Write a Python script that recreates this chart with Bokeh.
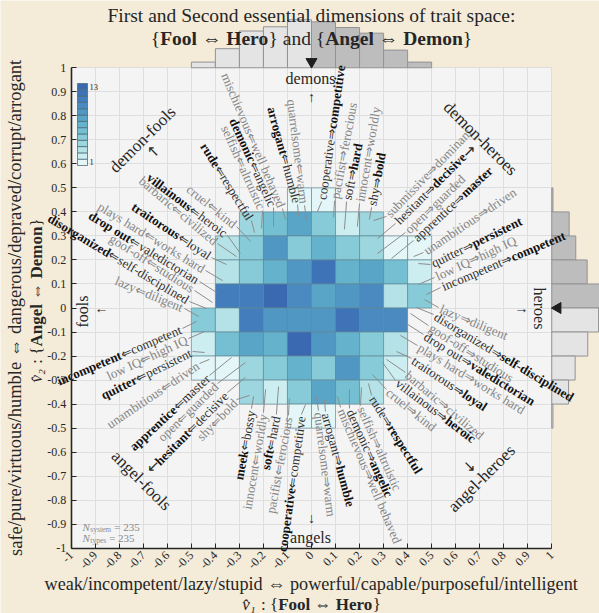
import math
import numpy as np
from bokeh.plotting import figure
from bokeh.models import Range1d, FixedTicker, ColumnDataSource, CustomJSTickFormatter
from bokeh.core.properties import value
from bokeh.embed import file_html
from bokeh.resources import INLINE

# ------------------------------------------------------------------ data
# heat-map: counts of trait vectors per 0.1 x 0.1 cell
cell_x0 = [-0.5, -0.4, -0.3, -0.2, -0.1, 0.0, 0.1, 0.2, 0.3, 0.4]     # left edge of each column
cell_y0 = [0.4, 0.3, 0.2, 0.1, 0.0, -0.1, -0.2, -0.3, -0.4, -0.5]     # bottom edge of each row (top row first)
counts_row0 = [0, 0, 0, 0, 1, 1, 0, 0, 0, 0]
counts_row1 = [0, 0, 4, 6, 8, 5, 2, 4, 0, 0]
counts_row2 = [0, 3, 5, 9, 5, 7, 5, 4, 1, 1]
counts_row3 = [0, 3, 5, 7, 9, 12, 7, 8, 6, 2]
counts_row4 = [0, 11, 11, 13, 10, 8, 9, 10, 3, 5]
counts_row5 = [5, 3, 11, 9, 9, 9, 12, 10, 10, 0]
counts_row6 = [2, 6, 8, 7, 13, 9, 7, 5, 3, 0]
counts_row7 = [1, 1, 4, 5, 7, 5, 9, 5, 2, 0]
counts_row8 = [0, 0, 4, 2, 5, 8, 6, 3, 0, 0]
counts_row9 = [0, 0, 0, 0, 1, 1, 0, 0, 0, 0]
cell_size = 0.1

palette = ["#e4f6f7", "#cdeef1", "#b4e2e7", "#9dd6de", "#86cbd7", "#74bfd2", "#64b2cc",
           "#59a5c8", "#5097c4", "#4a8ac0", "#447dbb", "#3f73b7", "#3a69b2"]   # counts 1..13

ticks = [-1, -0.9, -0.8, -0.7, -0.6, -0.5, -0.4, -0.3, -0.2, -0.1, 0,
         0.1, 0.2, 0.3, 0.4, 0.5, 0.6, 0.7, 0.8, 0.9, 1]

# trait pairs (upper half of the chart); the lower half holds the mirrored pairs
trait_a = ["mischievous", "demonic", "selfish", "rude", "cruel", "villainous", "barbaric",
           "traitorous", "plays hard", "drop out", "goof-off", "disorganized", "lazy",
           "arrogant", "quarrelsome",
           "cooperative", "pacifist", "soft", "innocent", "shy", "submissive", "hesitant",
           "open", "apprentice", "unambitious", "quitter", "low IQ", "incompetent"]
trait_b = ["well behaved", "angelic", "altruistic", "respectful", "kind", "heroic", "civilized",
           "loyal", "works hard", "valedictorian", "studious", "self-disciplined", "diligent",
           "humble", "warm",
           "competitive", "ferocious", "hard", "worldly", "bold", "dominant", "decisive",
           "guarded", "master", "driven", "persistent", "high IQ", "competent"]
trait_strong = [0, 1, 0, 1, 0, 1, 0, 1, 0, 1, 0, 1, 0, 1, 0,
                1, 0, 1, 0, 1, 0, 1, 0, 1, 0, 1, 0, 1]
lower_swap = {"shy": ("meek", "bossy"), "submissive": ("shy", "bold")}
trait_v1 = [-0.108, -0.158, -0.208, -0.237, -0.254, -0.296, -0.312, -0.354, -0.37, -0.395,
            -0.412, -0.437, -0.47, -0.054, -0.021,
            0.025, 0.092, 0.137, 0.191, 0.241, 0.258, 0.275, 0.275, 0.333, 0.425, 0.445, 0.445, 0.479]
trait_v2 = [0.368, 0.339, 0.331, 0.314, 0.277, 0.227, 0.214, 0.181, 0.114, 0.065,
            0.023, -0.002, -0.035, 0.381, 0.368,
            0.402, 0.377, 0.327, 0.339, 0.368, 0.364, 0.289, 0.227, 0.206, 0.214, 0.185, 0.098, 0.056]
# label layout: direction (deg) and inner end of each label
label_dir = [113, 114.5, 114, 122, 141, 143, 140, 146.5, 148.5, 148.5, 147.5, 149, 157.5, 105, 97,
             82, 79.5, 78.7, 80.3, 79.7, 46, 45, 44, 43, 34, 26, 25, 23]
label_x = [-0.121, -0.158, -0.204, -0.25, -0.312, -0.35, -0.391, -0.416, -0.441, -0.466,
           -0.487, -0.508, -0.529, -0.058, -0.029,
           0.042, 0.096, 0.146, 0.2, 0.25, 0.312, 0.35, 0.391, 0.425, 0.466, 0.495, 0.512, 0.537]
label_y = [0.414, 0.418, 0.406, 0.364, 0.339, 0.302, 0.268, 0.21, 0.156, 0.11,
           0.073, 0.027, -0.002, 0.431, 0.427,
           0.443, 0.447, 0.443, 0.435, 0.419, 0.381, 0.352, 0.314, 0.281, 0.231, 0.181, 0.127, 0.085]

n_system = 235
n_types = 235

# ------------------------------------------------------------------ geometry helpers
FONT = "Liberation Serif"
S = 240.25            # pixels per data unit
CX, CY = 311.0, 307.5  # page position of the origin
W, H = 599, 613


def pg(px, py):
    return ((px - CX) / S, (CY - py) / S)


TR = {' ': 250, '-': 333, '/': 278, ':': 278, '=': 564, '.': 250, '{': 480, '}': 480,
      'F': 556, 'S': 556, 'I': 333, 'Q': 722, 'N': 722, 'H': 722, 'A': 722, 'D': 722,
      'a': 444, 'b': 500, 'c': 444, 'd': 500, 'e': 444, 'f': 333, 'g': 500, 'h': 500, 'i': 278,
      'j': 278, 'k': 500, 'l': 278, 'm': 778, 'n': 500, 'o': 500, 'p': 500, 'q': 500, 'r': 333,
      's': 389, 't': 278, 'u': 500, 'v': 500, 'w': 722, 'x': 500, 'y': 500, 'z': 444,
      '\u0302': 0, '\u2081': 420, '\u2082': 420}
TB = {' ': 250, '-': 333, 'A': 722, 'D': 722, 'F': 611, 'H': 778, 'I': 389, 'Q': 778,
      'a': 500, 'b': 556, 'c': 444, 'd': 556, 'e': 444, 'f': 333, 'g': 500, 'h': 556, 'i': 278,
      'j': 333, 'k': 556, 'l': 278, 'm': 833, 'n': 556, 'o': 500, 'p': 556, 'q': 556, 'r': 444,
      's': 389, 't': 333, 'u': 556, 'v': 500, 'w': 722, 'x': 500, 'y': 500, 'z': 444}
TI = {'N': 667, 'v': 444}
ARROW_W = {"\u21d0": 838, "\u21d2": 838, "\u21d4": 1000}


def em(s, st="normal"):
    tab = TB if st == "bold" else TR
    tot = 0
    for ch in s:
        if ch in ARROW_W:
            tot += ARROW_W[ch]
        elif st == "italic" and ch in TI:
            tot += TI[ch]
        else:
            tot += tab.get(ch, 500)
    return tot / 1000.0


groups = {}


def add_text(x, y, t, angle=0.0, align="left", baseline="middle", size=12.0,
             style="normal", color="#262626"):
    key = (align, baseline, round(size, 1), style, color)
    g = groups.setdefault(key, dict(x=[], y=[], text=[], angle=[]))
    g["x"].append(x)
    g["y"].append(y)
    g["text"].append(t)
    g["angle"].append(angle)


def draw_runs(runs, cpx, cpy, size, angle=0.0, color="#262626"):
    ems = [em(t, st) for t, st in runs]
    total = sum(ems) * size
    ux, uy = math.cos(angle), math.sin(angle)
    cx, cy = pg(cpx, cpy)
    pos = -total / 2
    for (t, st), e in zip(runs, ems):
        lead = len(t) - len(t.lstrip(" "))
        q = pos + lead * 0.25 * size
        add_text(cx + q / S * ux, cy + q / S * uy, t.strip(" "), angle=angle, align="left",
                 size=size, style=st, color=color)
        pos += e * size


# ------------------------------------------------------------------ figure
BEIGE = "#f4ebd8"
x0, y1 = pg(0, 0)
x1, y0 = pg(W, H)
p = figure(width=W, height=H, x_range=Range1d(x0, x1), y_range=Range1d(y0, y1),
           output_backend="svg", toolbar_location=None, min_border=0,
           background_fill_color=BEIGE, border_fill_color=BEIGE, outline_line_color=None)

# plot-area background
p.quad(left=[ticks[0]], right=[ticks[-1]], bottom=[ticks[0]], top=[ticks[-1]],
       fill_color="#f4f4f4", line_color=None, level="image")

# grid
grid_ok = True
for g in (p.xgrid[0], p.ygrid[0]):
    g.ticker = FixedTicker(ticks=ticks)
    g.grid_line_color = "#dedede"
    g.grid_line_width = 1
    g.bounds = (ticks[0], ticks[-1])
    try:
        g.cross_bounds = (ticks[0], ticks[-1])
    except AttributeError:
        grid_ok = False
if not grid_ok:
    p.xgrid.visible = False
    p.ygrid.visible = False
    p.segment(x0=ticks, y0=[ticks[0]] * len(ticks), x1=ticks, y1=[ticks[-1]] * len(ticks),
              line_color="#dedede", line_width=1, level="underlay")
    p.segment(x0=[ticks[0]] * len(ticks), y0=ticks, x1=[ticks[-1]] * len(ticks), y1=ticks,
              line_color="#dedede", line_width=1, level="underlay")

# axes
fmt = CustomJSTickFormatter(code="return String(Math.round(tick*10)/10)")
p.xaxis.fixed_location = ticks[0]
p.yaxis.fixed_location = ticks[0]
for ax in (p.xaxis[0], p.yaxis[0]):
    ax.bounds = (ticks[0], ticks[-1])
    ax.ticker = FixedTicker(ticks=ticks)
    ax.formatter = fmt
    ax.major_tick_in = 5
    ax.major_tick_out = 0
    ax.minor_tick_line_color = None
    ax.axis_line_color = "#262626"
    ax.axis_line_width = 1.6
    ax.major_tick_line_color = "#262626"
    ax.major_label_text_font = FONT
    ax.major_label_text_font_size = "12px"
    ax.major_label_text_color = "#262626"
    ax.major_label_standoff = 5
p.xaxis.major_label_orientation = math.pi / 4

# heat map
counts = np.array([counts_row0, counts_row1, counts_row2, counts_row3, counts_row4,
                   counts_row5, counts_row6, counts_row7, counts_row8, counts_row9])
hl, hr, hb, ht, hc = [], [], [], [], []
for r, yb in enumerate(cell_y0):
    for c, xl in enumerate(cell_x0):
        n = counts[r, c]
        if n > 0:
            hl.append(xl); hr.append(xl + cell_size)
            hb.append(yb); ht.append(yb + cell_size)
            hc.append(palette[n - 1])
p.quad(left=hl, right=hr, bottom=hb, top=ht, fill_color=hc, line_color="#5f8793",
       line_alpha=0.65, line_width=1)

# marginal histograms
col_sum = counts.sum(axis=0)
row_sum = counts.sum(axis=1)
HL = 48.0 / S
top_len = HL * col_sum / col_sum.max()
right_len = HL * row_sum / row_sum.max()
xc = np.array(cell_x0) + cell_size / 2
yc = np.array(cell_y0) + cell_size / 2
p.quad(left=cell_x0, right=[v + cell_size for v in cell_x0], bottom=[1.0] * 10,
       top=list(1.0 + top_len), fill_color=["#e4e4e4" if v < 0 else "#bdbdbd" for v in xc],
       line_color="#939393", line_width=1)
p.quad(bottom=cell_y0, top=[v + cell_size for v in cell_y0], left=[1.0] * 10,
       right=list(1.0 + right_len), fill_color=["#e4e4e4" if v < 0 else "#bdbdbd" for v in yc],
       line_color="#939393", line_width=1)
mean_v1 = float((counts.sum(axis=0) * xc).sum() / counts.sum())
mean_v2 = float((counts.sum(axis=1) * yc).sum() / counts.sum())
p.scatter(x=[round(mean_v1, 1)], y=[1.0 + 6 / S], marker="inverted_triangle", size=11,
          color="#1e1e1e")
p.scatter(x=[1.0 + 6 / S], y=[round(mean_v2, 1)], marker="triangle", angle=math.pi / 2,
          size=11, color="#1e1e1e")

# colour bar
cb_x0, cb_x1 = pg(77, 0)[0], pg(87, 0)[0]
cb_bot, cb_top = pg(0, 165)[1], pg(0, 83)[1]
step = (cb_top - cb_bot) / len(palette)
p.quad(left=[cb_x0] * len(palette), right=[cb_x1] * len(palette),
       bottom=[cb_bot + i * step for i in range(len(palette))],
       top=[cb_bot + (i + 1) * step for i in range(len(palette))],
       fill_color=palette, line_color="#4d6f7a", line_width=0.8)
add_text(cb_x1 + 2 / S, cb_top - step / 2, "13", size=8.5)
add_text(cb_x1 + 2 / S, cb_bot + step / 2, "1", size=8.5)

# trait labels with leader lines
LBL = 13.0
GAP = 2.0
seg = dict(x0=[], y0=[], x1=[], y1=[])
for half in (0, 1):
    sgn = 1 if half == 0 else -1
    for k in range(len(trait_a)):
        a, b = trait_a[k], trait_b[k]
        if half == 1 and a in lower_swap:
            a, b = lower_swap[a]
        th = math.radians(label_dir[k] + (0 if half == 0 else 180))
        ux, uy = math.cos(th), math.sin(th)
        ax_, ay_ = sgn * label_x[k], sgn * label_y[k]
        tx, ty = sgn * trait_v1[k], sgn * trait_v2[k]
        seg["x0"].append(ax_); seg["y0"].append(ay_)
        seg["x1"].append(tx); seg["y1"].append(ty)
        if ux < 0:
            inner, outer, ang = "\u21d0" + b, a, th - math.pi
            in_al, out_al = "left", "right"
        else:
            inner, outer, ang = a + "\u21d2", b, th
            in_al, out_al = "right", "left"
        w_in = em(inner) * LBL + GAP
        jx, jy = ax_ + w_in / S * ux, ay_ + w_in / S * uy
        if trait_strong[k]:
            add_text(jx, jy, inner, ang, in_al, size=LBL, color="#303030")
            add_text(jx, jy, outer, ang, out_al, size=LBL, style="bold", color="#111111")
        else:
            add_text(jx, jy, inner, ang, in_al, size=LBL, color="#858585")
            add_text(jx, jy, outer, ang, out_al, size=LBL, color="#858585")
p.segment(x0="x0", y0="y0", x1="x1", y1="y1", source=ColumnDataSource(seg),
          line_color="#8c8c8c", line_width=1)

# pole and corner labels
add_text(*pg(310, 78), "demons", size=16, align="center")
add_text(*pg(311, 97), "\u2191", size=14, align="center")
add_text(*pg(310, 537), "angels", size=16, align="center")
add_text(*pg(311, 518), "\u2193", size=14, align="center")
add_text(*pg(82, 311), "fools", angle=math.pi / 2, size=16, align="center")
add_text(*pg(101, 307.5), "\u2190", size=14, align="center")
add_text(*pg(539, 308), "heroes", angle=-math.pi / 2, size=16, align="center")
add_text(*pg(521, 307.5), "\u2192", size=14, align="center")
add_text(*pg(142, 139), "demon-fools", angle=math.pi / 4, size=17, align="center")
add_text(*pg(153, 150), "\u2196", size=15, align="center")
add_text(*pg(480, 138), "demon-heroes", angle=-math.pi / 4, size=17, align="center")
add_text(*pg(469, 150), "\u2197", size=15, align="center")
add_text(*pg(141, 480), "angel-fools", angle=-math.pi / 4, size=17, align="center")
add_text(*pg(153, 465), "\u2199", size=15, align="center")
add_text(*pg(481, 478), "angel-heroes", angle=math.pi / 4, size=17, align="center")
add_text(*pg(469, 465), "\u2198", size=15, align="center")

# N annotations
for i, (sub, nval) in enumerate((("system", n_system), ("types", n_types))):
    bx, by = 82.0, 526.5 + 11 * i
    x_, y_ = pg(bx, by)
    add_text(x_, y_, "N", baseline="alphabetic", size=11, style="italic", color="#8a8a8a")
    bx += em("N", "italic") * 11 + 0.5
    x_, y_ = pg(bx, by + 2.5)
    add_text(x_, y_, sub, baseline="alphabetic", size=7.5, color="#8a8a8a")
    bx += em(sub) * 7.5 + 3
    x_, y_ = pg(bx, by)
    add_text(x_, y_, "= %d" % nval, baseline="alphabetic", size=11, color="#8a8a8a")

# titles and axis labels
t1 = "First and Second essential dimensions of trait space:"
TS = 408.0 / em(t1)
draw_runs([(t1, "normal")], 311, 15, TS)
draw_runs([("{", "normal"), ("Fool", "bold"), (" \u21d4 ", "normal"), ("Hero", "bold"),
           ("} and {", "normal"), ("Angel", "bold"), (" \u21d4 ", "normal"), ("Demon", "bold"),
           ("}", "normal")], 311, 38, TS)
xl1 = "weak/incompetent/lazy/stupid \u21d4 powerful/capable/purposeful/intelligent"
draw_runs([(xl1, "normal")], 311, 583, 534.0 / em(xl1))
draw_runs([("v\u0302\u2081", "italic"), (" : {", "normal"), ("Fool", "bold"),
           (" \u21d4 ", "normal"), ("Hero", "bold"), ("}", "normal")], 311, 604, 17)
yl1 = "safe/pure/virtuous/humble \u21d4 dangerous/depraved/corrupt/arrogant"
draw_runs([(yl1, "normal")], 15, 308, 495.0 / em(yl1), angle=math.pi / 2)
draw_runs([("v\u0302\u2082", "italic"), (" : {", "normal"), ("Angel", "bold"),
           (" \u21d4 ", "normal"), ("Demon", "bold"), ("}", "normal")], 36, 300, 17,
          angle=math.pi / 2)

for (align, baseline, size, style, color), g in groups.items():
    p.text(x="x", y="y", text="text", angle="angle", source=ColumnDataSource(g),
           text_align=align, text_baseline=baseline, text_font=value(FONT),
           text_font_size="%.1fpx" % size, text_font_style=style, text_color=color)

open("out.html", "w").write(file_html(p, INLINE))
